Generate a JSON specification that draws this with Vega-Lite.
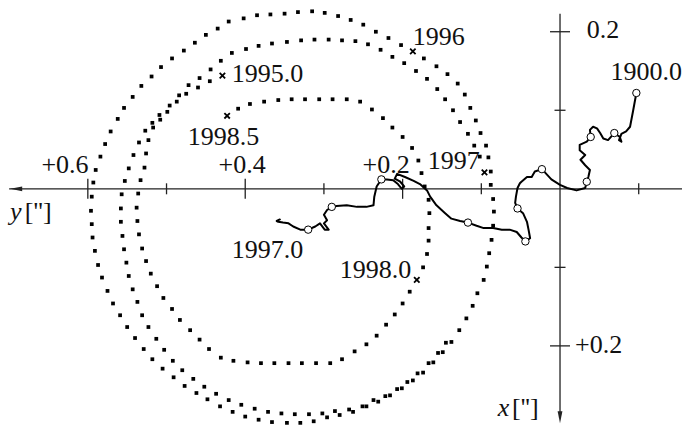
{
  "$schema": "https://vega.github.io/schema/vega-lite/v6.json",
  "width": 682,
  "height": 430,
  "autosize": {"type": "none"},
  "padding": 0,
  "background": "white",
  "config": {"view": {"stroke": null}},
  "datasets": {
    "axes": [
      {"y": 0.700, "y2": -0.156, "x": 0, "x2": 0},
      {"y": 0, "y2": 0, "x": -0.223, "x2": 0.291}
    ],
    "harrow": [{"y": 0.691, "x": 0}],
    "varrow": [{"y": 0, "x": 0.291}],
    "hmajor": [{"y": 0.6, "x": 0}, {"y": 0.4, "x": 0}, {"y": 0.2, "x": 0}],
    "hminor": [{"y": 0.5, "x": 0}, {"y": 0.3, "x": 0}, {"y": 0.1, "x": 0}, {"y": -0.1, "x": 0}],
    "vmajor": [{"y": 0, "x": -0.2}, {"y": 0, "x": 0.2}],
    "vminor": [{"y": 0, "x": -0.1}, {"y": 0, "x": 0.1}],
    "ticklabels": [
      {"y": 0.629, "x": -0.020, "label": "+0.6"},
      {"y": 0.404, "x": -0.020, "label": "+0.4"},
      {"y": 0.221, "x": -0.020, "label": "+0.2"}
    ],
    "labels": [
      {"y": 0.187, "x": -0.183, "label": "1996"},
      {"y": 0.417, "x": -0.136, "label": "1995.0"},
      {"y": 0.473, "x": -0.056, "label": "1998.5"},
      {"y": 0.168, "x": -0.025, "label": "1997"},
      {"y": 0.280, "x": 0.114, "label": "1998.0"},
      {"y": 0.417, "x": 0.088, "label": "1997.0"},
      {"y": -0.064, "x": -0.139, "label": "1900.0"},
      {"y": -0.034, "x": -0.192, "label": "0.2"},
      {"y": -0.019, "x": 0.209, "label": "+0.2"},
      {"y": 0.680, "x": 0.040, "label": "['']"},
      {"y": 0.061, "x": 0.289, "label": "['']"}
    ],
    "italic": [
      {"y": 0.699, "x": 0.040, "label": "y"},
      {"y": 0.079, "x": 0.289, "label": "x"}
    ],
    "crosses": [
      {"y": 0.429, "x": -0.144}, {"y": 0.187, "x": -0.175}, {"y": 0.096, "x": -0.021},
      {"y": 0.182, "x": 0.116}, {"y": 0.423, "x": -0.093}
    ],
    "dots": [
      {"y":0.421,"x":-0.213},{"y":0.435,"x":-0.204},{"y":0.450,"x":-0.196},{"y":0.464,"x":-0.186},{"y":0.478,"x":-0.176},{"y":0.493,"x":-0.166},{"y":0.507,"x":-0.155},{"y":0.519,"x":-0.143},{"y":0.532,"x":-0.131},{"y":0.543,"x":-0.117},{"y":0.554,"x":-0.103},{"y":0.562,"x":-0.089},{"y":0.571,"x":-0.073},{"y":0.578,"x":-0.057},{"y":0.584,"x":-0.041},{"y":0.590,"x":-0.024},{"y":0.593,"x":-0.008},{"y":0.595,"x":0.010},{"y":0.596,"x":0.028},
      {"y":0.595,"x":0.045},{"y":0.594,"x":0.062},{"y":0.591,"x":0.079},{"y":0.587,"x":0.097},{"y":0.582,"x":0.113},{"y":0.575,"x":0.130},{"y":0.568,"x":0.146},{"y":0.559,"x":0.161},{"y":0.550,"x":0.176},{"y":0.540,"x":0.190},{"y":0.529,"x":0.204},{"y":0.518,"x":0.217},{"y":0.505,"x":0.229},{"y":0.491,"x":0.240},{"y":0.477,"x":0.251},{"y":0.462,"x":0.260},{"y":0.448,"x":0.268},{"y":0.432,"x":0.277},
      {"y":0.416,"x":0.284},{"y":0.400,"x":0.290},{"y":0.383,"x":0.294},{"y":0.366,"x":0.297},{"y":0.347,"x":0.298},{"y":0.330,"x":0.298},{"y":0.313,"x":0.296},{"y":0.296,"x":0.291},{"y":0.280,"x":0.288},{"y":0.263,"x":0.284},{"y":0.246,"x":0.277},
      {"y":0.231,"x":0.271},{"y":0.216,"x":0.263},{"y":0.201,"x":0.254},{"y":0.187,"x":0.244},{"y":0.174,"x":0.234},{"y":0.161,"x":0.221},{"y":0.149,"x":0.208},{"y":0.138,"x":0.195},{"y":0.128,"x":0.180},{"y":0.119,"x":0.165},{"y":0.111,"x":0.149},{"y":0.105,"x":0.133},{"y":0.097,"x":0.116},{"y":0.093,"x":0.099},{"y":0.090,"x":0.082},{"y":0.087,"x":0.065},
      {"y":0.085,"x":0.047},{"y":0.084,"x":0.029},{"y":0.085,"x":0.013},{"y":0.088,"x":-0.005},
      {"y":0.088,"x":-0.022},{"y":0.091,"x":-0.040},{"y":0.094,"x":-0.055},{"y":0.101,"x":-0.071},{"y":0.107,"x":-0.087},{"y":0.114,"x":-0.103},{"y":0.121,"x":-0.120},{"y":0.130,"x":-0.134},{"y":0.143,"x":-0.146},{"y":0.157,"x":-0.156},{"y":0.173,"x":-0.166},{"y":0.202,"x":-0.183},{"y":0.218,"x":-0.192},{"y":0.234,"x":-0.200},
      {"y":0.402,"x":-0.217},{"y":0.385,"x":-0.221},{"y":0.368,"x":-0.222},{"y":0.350,"x":-0.223},{"y":0.333,"x":-0.225},{"y":0.315,"x":-0.226},{"y":0.299,"x":-0.224},{"y":0.282,"x":-0.220},{"y":0.266,"x":-0.215},{"y":0.250,"x":-0.209},
      {"y":0.417,"x":-0.173},{"y":0.399,"x":-0.178},{"y":0.383,"x":-0.182},{"y":0.366,"x":-0.185},{"y":0.347,"x":-0.187},{"y":0.329,"x":-0.189},{"y":0.312,"x":-0.190},{"y":0.294,"x":-0.190},{"y":0.277,"x":-0.189},{"y":0.260,"x":-0.188},{"y":0.244,"x":-0.184},
      {"y":0.228,"x":-0.177},{"y":0.213,"x":-0.168},{"y":0.198,"x":-0.160},{"y":0.183,"x":-0.150},{"y":0.169,"x":-0.140},{"y":0.156,"x":-0.127},{"y":0.146,"x":-0.114},{"y":0.136,"x":-0.100},{"y":0.127,"x":-0.085},{"y":0.117,"x":-0.070},{"y":0.109,"x":-0.055},{"y":0.102,"x":-0.041},
      {"y":0.431,"x":-0.163},{"y":0.444,"x":-0.152},{"y":0.458,"x":-0.141},{"y":0.472,"x":-0.132},{"y":0.484,"x":-0.119},{"y":0.496,"x":-0.106},{"y":0.509,"x":-0.094},{"y":0.518,"x":-0.084},{"y":0.527,"x":-0.074},{"y":0.535,"x":-0.059},{"y":0.542,"x":-0.043},{"y":0.548,"x":-0.026},{"y":0.553,"x":-0.010},{"y":0.557,"x":0.007},{"y":0.558,"x":0.025},
      {"y":0.558,"x":0.042},{"y":0.556,"x":0.060},{"y":0.554,"x":0.077},{"y":0.551,"x":0.094},{"y":0.548,"x":0.111},{"y":0.543,"x":0.128},{"y":0.537,"x":0.144},{"y":0.531,"x":0.161},{"y":0.523,"x":0.176},{"y":0.513,"x":0.191},{"y":0.503,"x":0.205},{"y":0.492,"x":0.219},{"y":0.480,"x":0.231},{"y":0.466,"x":0.242},{"y":0.452,"x":0.252},{"y":0.437,"x":0.261},{"y":0.421,"x":0.269},
      {"y":0.405,"x":0.275},{"y":0.388,"x":0.280},{"y":0.371,"x":0.284},{"y":0.354,"x":0.286},{"y":0.337,"x":0.287},{"y":0.319,"x":0.287},{"y":0.302,"x":0.286},{"y":0.286,"x":0.283},{"y":0.268,"x":0.281},{"y":0.251,"x":0.277},{"y":0.237,"x":0.269},
      {"y":0.145,"x":0.196},{"y":0.155,"x":0.209},{"y":0.167,"x":0.222},{"y":0.181,"x":0.235},{"y":0.194,"x":0.246},{"y":0.207,"x":0.255},{"y":0.222,"x":0.264},
      {"y":0.445,"x":-0.137},{"y":0.460,"x":-0.129},{"y":0.475,"x":-0.121},{"y":0.487,"x":-0.111},{"y":0.499,"x":-0.098},{"y":0.508,"x":-0.088},{"y":0.517,"x":-0.078},{"y":0.523,"x":-0.062},{"y":0.526,"x":-0.045},{"y":0.528,"x":-0.027},{"y":0.533,"x":-0.011},{"y":0.536,"x":0.006},{"y":0.538,"x":0.024},
      {"y":0.537,"x":0.041},{"y":0.535,"x":0.058},{"y":0.531,"x":0.076},{"y":0.526,"x":0.092},{"y":0.520,"x":0.108},{"y":0.512,"x":0.124},{"y":0.504,"x":0.139},{"y":0.493,"x":0.153},{"y":0.483,"x":0.167},{"y":0.470,"x":0.180},{"y":0.458,"x":0.192},{"y":0.446,"x":0.204},{"y":0.431,"x":0.215},
      {"y":0.415,"x":0.219},{"y":0.397,"x":0.221},{"y":0.380,"x":0.222},{"y":0.363,"x":0.222},{"y":0.345,"x":0.222},{"y":0.328,"x":0.222},{"y":0.310,"x":0.222},{"y":0.292,"x":0.222},{"y":0.277,"x":0.217},{"y":0.261,"x":0.207},{"y":0.246,"x":0.198},
      {"y":0.233,"x":0.187},{"y":0.221,"x":0.173},{"y":0.210,"x":0.160},{"y":0.200,"x":0.146},{"y":0.191,"x":0.131},
      {"y":0.174,"x":0.100},{"y":0.169,"x":0.083},{"y":0.167,"x":0.066},{"y":0.167,"x":0.050},
      {"y":0.166,"x":0.031},{"y":0.167,"x":0.014},{"y":0.172,"x":-0.003},{"y":0.176,"x":-0.020},{"y":0.180,"x":-0.036},{"y":0.188,"x":-0.052},{"y":0.200,"x":-0.066},{"y":0.213,"x":-0.078},{"y":0.225,"x":-0.090},{"y":0.239,"x":-0.101},
      {"y":0.254,"x":-0.111},{"y":0.271,"x":-0.114},{"y":0.289,"x":-0.114},{"y":0.306,"x":-0.114},{"y":0.324,"x":-0.114},{"y":0.341,"x":-0.114},{"y":0.358,"x":-0.113},{"y":0.376,"x":-0.111},{"y":0.394,"x":-0.108},{"y":0.409,"x":-0.102}
    ],
    "path": [
      {"t":1,"y":-0.097,"x":-0.122},{"t":2,"y":-0.093,"x":-0.100},{"t":3,"y":-0.089,"x":-0.079},{"t":4,"y":-0.084,"x":-0.073},{"t":5,"y":-0.078,"x":-0.070},{"t":6,"y":-0.075,"x":-0.062},{"t":7,"y":-0.078,"x":-0.060},{"t":8,"y":-0.076,"x":-0.066},{"t":9,"y":-0.069,"x":-0.071},{"t":10,"y":-0.061,"x":-0.062},
      {"t":11,"y":-0.055,"x":-0.064},{"t":12,"y":-0.051,"x":-0.071},{"t":13,"y":-0.047,"x":-0.077},{"t":14,"y":-0.042,"x":-0.079},{"t":15,"y":-0.038,"x":-0.075},{"t":16,"y":-0.039,"x":-0.066},{"t":17,"y":-0.034,"x":-0.060},{"t":18,"y":-0.025,"x":-0.056},{"t":19,"y":-0.025,"x":-0.049},{"t":20,"y":-0.032,"x":-0.043},
      {"t":21,"y":-0.026,"x":-0.037},{"t":22,"y":-0.032,"x":-0.030},{"t":23,"y":-0.038,"x":-0.024},{"t":24,"y":-0.036,"x":-0.015},{"t":25,"y":-0.034,"x":-0.009},{"t":26,"y":-0.032,"x":-0.001},{"t":27,"y":-0.021,"x":0.002},{"t":28,"y":-0.009,"x":-0.001},{"t":29,"y":0.000,"x":-0.005},{"t":30,"y":0.011,"x":-0.012},
      {"t":31,"y":0.023,"x":-0.025},{"t":32,"y":0.032,"x":-0.022},{"t":33,"y":0.036,"x":-0.015},{"t":34,"y":0.042,"x":-0.015},{"t":35,"y":0.049,"x":-0.009},{"t":36,"y":0.051,"x":-0.007},{"t":37,"y":0.054,"x":-0.001},{"t":38,"y":0.056,"x":0.010},{"t":39,"y":0.057,"x":0.018},{"t":40,"y":0.054,"x":0.025},
      {"t":41,"y":0.047,"x":0.031},{"t":42,"y":0.042,"x":0.042},{"t":43,"y":0.040,"x":0.052},{"t":44,"y":0.038,"x":0.063},{"t":45,"y":0.044,"x":0.067},{"t":46,"y":0.049,"x":0.062},{"t":47,"y":0.055,"x":0.055},{"t":48,"y":0.064,"x":0.052},{"t":49,"y":0.074,"x":0.052},{"t":50,"y":0.085,"x":0.050},
      {"t":51,"y":0.097,"x":0.050},{"t":52,"y":0.106,"x":0.047},{"t":53,"y":0.117,"x":0.043},{"t":54,"y":0.127,"x":0.041},{"t":55,"y":0.138,"x":0.038},{"t":56,"y":0.146,"x":0.031},{"t":57,"y":0.157,"x":0.021},{"t":58,"y":0.165,"x":0.010},{"t":59,"y":0.169,"x":0.002},{"t":60,"y":0.178,"x":-0.006},
      {"t":61,"y":0.186,"x":-0.010},{"t":62,"y":0.197,"x":-0.015},{"t":63,"y":0.207,"x":-0.019},{"t":64,"y":0.210,"x":-0.013},{"t":65,"y":0.203,"x":-0.009},{"t":66,"y":0.198,"x":-0.003},{"t":67,"y":0.201,"x":0.000},{"t":68,"y":0.206,"x":-0.006},{"t":69,"y":0.212,"x":-0.011},{"t":70,"y":0.220,"x":-0.012},
      {"t":71,"y":0.227,"x":-0.012},{"t":72,"y":0.233,"x":-0.003},{"t":73,"y":0.236,"x":0.010},{"t":74,"y":0.237,"x":0.021},{"t":75,"y":0.246,"x":0.023},{"t":76,"y":0.258,"x":0.023},{"t":77,"y":0.271,"x":0.021},{"t":78,"y":0.284,"x":0.022},{"t":79,"y":0.290,"x":0.023},{"t":80,"y":0.296,"x":0.027},
      {"t":81,"y":0.300,"x":0.033},{"t":82,"y":0.296,"x":0.040},{"t":83,"y":0.300,"x":0.044},{"t":84,"y":0.294,"x":0.052},{"t":85,"y":0.299,"x":0.052},{"t":86,"y":0.305,"x":0.044},{"t":87,"y":0.311,"x":0.048},{"t":88,"y":0.320,"x":0.052},{"t":89,"y":0.330,"x":0.052},{"t":90,"y":0.339,"x":0.048},
      {"t":91,"y":0.345,"x":0.044},{"t":92,"y":0.352,"x":0.043},{"t":93,"y":0.358,"x":0.042},{"t":94,"y":0.360,"x":0.041},{"t":95,"y":0.356,"x":0.039}
    ],
    "circles": [
      {"y":-0.097,"x":-0.122},{"y":-0.069,"x":-0.071},{"y":-0.039,"x":-0.066},{"y":-0.034,"x":-0.009},{"y":0.023,"x":-0.025},{"y":0.054,"x":0.025},{"y":0.044,"x":0.067},{"y":0.117,"x":0.043},{"y":0.227,"x":-0.012},{"y":0.290,"x":0.023},{"y":0.320,"x":0.052}
    ]
  },
  "encoding": {
    "x": {"field": "y", "type": "quantitative", "axis": null,
          "scale": {"domain": [-0.155, 0.7116], "reverse": true, "nice": false, "zero": false}},
    "y": {"field": "x", "type": "quantitative", "axis": null,
          "scale": {"domain": [-0.2404, 0.3071], "reverse": true, "nice": false, "zero": false}}
  },
  "layer": [
    {"data": {"name": "axes"}, "mark": {"type": "rule", "color": "#222", "strokeWidth": 1.3},
     "encoding": {"x2": {"field": "y2"}, "y2": {"field": "x2"}}},
    {"data": {"name": "harrow"}, "mark": {"type": "point", "shape": "M -1 0 L 1 -0.4 L 1 0.4 Z", "size": 144, "filled": true, "color": "#222", "opacity": 1}},
    {"data": {"name": "varrow"}, "mark": {"type": "point", "shape": "M 0 1 L -0.4 -1 L 0.4 -1 Z", "size": 144, "filled": true, "color": "#222", "opacity": 1}},
    {"data": {"name": "hmajor"}, "mark": {"type": "tick", "orient": "vertical", "size": 20, "thickness": 1.3, "color": "#222", "opacity": 1}},
    {"data": {"name": "hminor"}, "mark": {"type": "tick", "orient": "vertical", "size": 11, "thickness": 1.3, "color": "#222", "opacity": 1}},
    {"data": {"name": "vmajor"}, "mark": {"type": "tick", "orient": "horizontal", "size": 20, "thickness": 1.3, "color": "#222", "opacity": 1}},
    {"data": {"name": "vminor"}, "mark": {"type": "tick", "orient": "horizontal", "size": 11, "thickness": 1.3, "color": "#222", "opacity": 1}},
    {"data": {"name": "dots"}, "mark": {"type": "point", "shape": "square", "size": 14, "filled": true, "color": "#000", "opacity": 1}},
    {"data": {"name": "crosses"}, "mark": {"type": "point", "shape": "M -1 -1 L 1 1 M -1 1 L 1 -1", "size": 30, "filled": false, "color": "#000", "strokeWidth": 1.8, "opacity": 1}},
    {"data": {"name": "path"}, "mark": {"type": "line", "color": "#000", "strokeWidth": 2, "strokeJoin": "round", "strokeCap": "round"},
     "encoding": {"order": {"field": "t", "type": "quantitative"}}},
    {"data": {"name": "circles"}, "mark": {"type": "point", "shape": "circle", "size": 55, "filled": true, "fill": "white", "stroke": "#000", "strokeWidth": 1, "opacity": 1}},
    {"data": {"name": "ticklabels"}, "mark": {"type": "text", "font": "Liberation Serif", "fontSize": 26, "align": "center", "baseline": "alphabetic", "color": "#111"},
     "encoding": {"text": {"field": "label"}}},
    {"data": {"name": "labels"}, "mark": {"type": "text", "font": "Liberation Serif", "fontSize": 26, "align": "left", "baseline": "alphabetic", "color": "#111"},
     "encoding": {"text": {"field": "label"}}},
    {"data": {"name": "italic"}, "mark": {"type": "text", "font": "Liberation Serif", "fontStyle": "italic", "fontSize": 26, "align": "left", "baseline": "alphabetic", "color": "#111"},
     "encoding": {"text": {"field": "label"}}}
  ]
}
